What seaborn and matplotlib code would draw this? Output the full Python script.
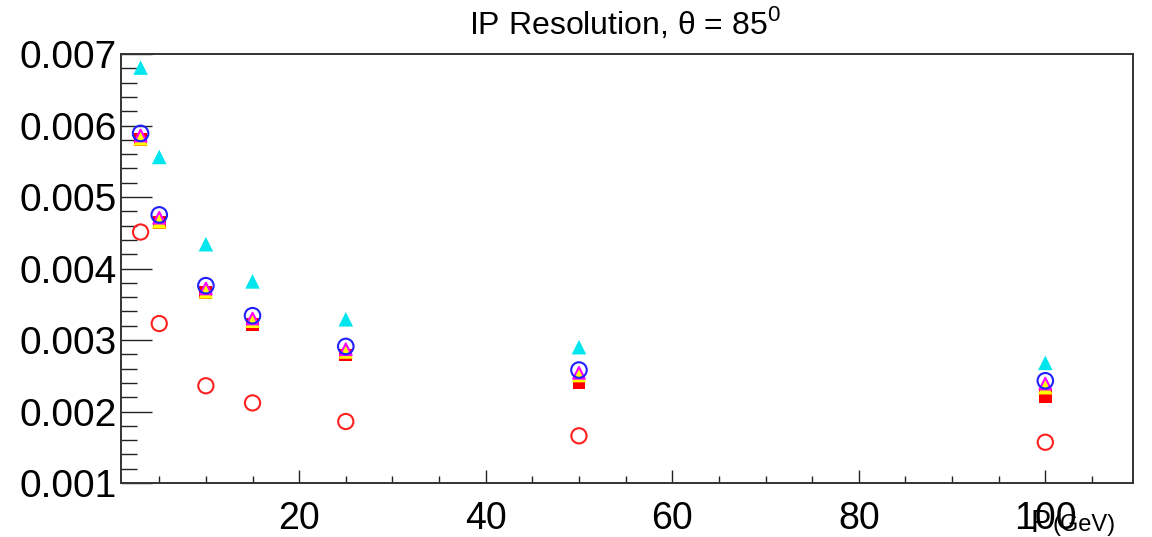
import matplotlib
matplotlib.use("Agg")
import matplotlib.pyplot as plt
import seaborn as sns
import pandas as pd
from matplotlib.ticker import MultipleLocator, FormatStrFormatter

# ---- data ----
momentum = [3, 5, 10, 15, 25, 50, 100]
res_cyan = [0.00681, 0.00556, 0.00434, 0.00382, 0.00329, 0.00290, 0.00268]
res_blue = [0.00589, 0.00475, 0.00376, 0.00334, 0.00291, 0.00258, 0.00243]
res_magenta = [0.00586, 0.00471, 0.00372, 0.00330, 0.00287, 0.00254, 0.00239]
res_yellow = [0.00582, 0.00466, 0.00368, 0.00327, 0.00284, 0.00251, 0.00234]
res_red_sq = [0.00580, 0.00464, 0.00366, 0.00322, 0.00279, 0.00240, 0.00221]
res_red_circ = [0.00451, 0.00323, 0.00236, 0.00212, 0.00186, 0.00166, 0.00157]

title_text = "IP Resolution, θ = 85"
xlabel_main = "P"
xlabel_unit = "(GeV)"

sns.set_style("white")
plt.rcParams["font.family"] = ["Liberation Sans", "DejaVu Sans"]
plt.rcParams["mathtext.fontset"] = "custom"
plt.rcParams["mathtext.rm"] = "Liberation Sans"
plt.rcParams["text.color"] = "black"
plt.rcParams["xtick.color"] = "black"
plt.rcParams["ytick.color"] = "black"

fig = plt.figure(figsize=(11.52, 5.37), dpi=100)
ax = fig.add_axes([121 / 1152, 1 - 483 / 537, (1133 - 121) / 1152, (483 - 54) / 537])

series = [
    (res_red_circ, dict(marker="o", s=120, color="none", edgecolor="#ff2020", linewidth=1.5)),
    (res_cyan, dict(marker="^", s=110, color="#00e5ee", edgecolor="none", linewidth=0)),
    (res_red_sq, dict(marker="s", s=85, color="#ff0000", edgecolor="none", linewidth=0)),
    (res_yellow, dict(marker="^", s=110, color="#ffff00", edgecolor="none", linewidth=0)),
    (res_magenta, dict(marker="^", s=70, color="none", edgecolor="#ff00ff", linewidth=1.5)),
    (res_blue, dict(marker="o", s=125, color="none", edgecolor="#2020ff", linewidth=1.5)),
]
for vals, kw in series:
    df = pd.DataFrame({"p": momentum, "res": vals})
    sns.scatterplot(data=df, x="p", y="res", ax=ax, legend=False, **kw)

ax.set_xlim(0.9, 109.4)
ax.set_ylim(0.001, 0.0070001)
ax.set_xlabel("")
ax.set_ylabel("")

ax.xaxis.set_major_locator(MultipleLocator(20))
ax.xaxis.set_minor_locator(MultipleLocator(5))
ax.yaxis.set_major_locator(MultipleLocator(0.001))
ax.yaxis.set_minor_locator(MultipleLocator(0.0002))
ax.yaxis.set_major_formatter(FormatStrFormatter("%.3f"))

ax.tick_params(axis="x", which="major", direction="in", length=9.5, width=1.0,
               labelsize=27, pad=13, bottom=True, top=False, color="#222222",
               labelcolor="black")
ax.tick_params(axis="x", which="minor", direction="in", length=4.8, width=1.0,
               bottom=True, top=False, color="#222222")
ax.tick_params(axis="y", which="major", direction="in", length=22, width=1.0,
               labelsize=28, pad=3, left=True, right=False, color="#222222",
               labelcolor="black")
ax.tick_params(axis="y", which="minor", direction="in", length=11.5, width=1.0,
               left=True, right=False, color="#222222")

for sp in ax.spines.values():
    sp.set_visible(True)
    sp.set_color("#333333")
    sp.set_linewidth(1.4)

fig.text(625 / 1152, 1 - 23 / 537, title_text + r"$^{\mathregular{0}}$",
         ha="center", va="center", fontsize=23)
fig.text(1051 / 1152, 1 - 532 / 537, xlabel_main, ha="right", va="baseline", fontsize=22)
fig.text(1053 / 1152, 1 - 531 / 537, xlabel_unit, ha="left", va="baseline", fontsize=17)

fig.savefig("out.png", dpi=100)
